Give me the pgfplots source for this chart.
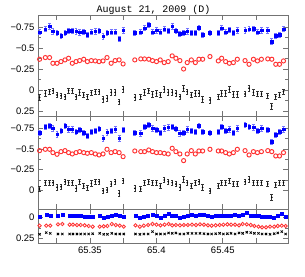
\documentclass[border=0pt]{standalone}
\usepackage{fontspec}
\setmainfont{Liberation Sans}
\newfontfamily\monof{Liberation Mono}
\usepackage{pgfplots}
\usepackage{pgfplotstable}
\pgfplotsset{compat=1.18}

\pgfplotstableread{
x tb tr tk mb mr mk
65.3122 -0.690 -0.366 0.088 -0.695 -0.479 -0.018
65.3165 -0.726 -0.386 0.040 -0.767 -0.495 -0.094
65.3197 -0.758 -0.386 0.020 -0.779 -0.495 -0.094
65.3222 -0.700 -0.318 0.008 -0.747 -0.455 -0.094
65.3253 -0.680 -0.318 0.060 -0.675 -0.435 -0.038
65.3283 -0.646 -0.338 0.068 -0.715 -0.467 -0.046
65.3313 -0.680 -0.358 0.080 -0.779 -0.479 -0.106
65.3340 -0.706 -0.378 0.008 -0.735 -0.455 -0.094
65.3368 -0.706 -0.318 0.008 -0.735 -0.439 -0.094
65.3396 -0.700 -0.338 0.080 -0.707 -0.455 -0.026
65.3423 -0.686 -0.350 0.028 -0.727 -0.467 -0.106
65.3454 -0.694 -0.366 0.060 -0.695 -0.455 -0.054
65.3481 -0.658 -0.338 0.080 -0.655 -0.447 -0.034
65.3511 -0.690 -0.350 0.032 -0.707 -0.455 -0.086
65.3541 -0.700 -0.346 0.020 -0.719 -0.439 -0.106
65.3569 -0.706 -0.338 0.020 -0.739 -0.427 -0.106
65.3599 -0.638 -0.346 0.108 -0.627 -0.439 0.002
65.3629 -0.680 -0.386 0.100 -0.699 -0.495 -0.006
65.3660 -0.690 -0.318 0.028 -0.715 -0.455 -0.078
65.3690 -0.690 -0.350 0.028 -0.735 -0.467 -0.106
65.3720 -0.610 -0.358 0.140 -0.627 -0.455 0.034
65.3750 -0.710 -0.310 -0.008 -0.727 -0.407 -0.118
65.3838 -0.680 -0.358 0.088 -0.695 -0.475 -0.026
65.3883 -0.690 -0.370 0.080 -0.687 -0.467 -0.018
65.3911 -0.738 -0.370 0.028 -0.767 -0.467 -0.094
65.3943 -0.774 -0.366 0.008 -0.787 -0.487 -0.106
65.3971 -0.690 -0.350 0.052 -0.747 -0.467 -0.094
65.4001 -0.710 -0.338 0.040 -0.727 -0.455 -0.094
65.4029 -0.690 -0.358 0.060 -0.695 -0.455 -0.054
65.4059 -0.726 -0.326 -0.008 -0.747 -0.447 -0.126
65.4089 -0.706 -0.338 0.028 -0.759 -0.439 -0.106
65.4119 -0.758 -0.406 0.028 -0.767 -0.507 -0.094
65.4147 -0.706 -0.378 0.040 -0.739 -0.467 -0.078
65.4177 -0.670 -0.350 0.080 -0.687 -0.439 -0.038
65.4205 -0.680 -0.250 -0.020 -0.695 -0.359 -0.134
65.4232 -0.700 -0.326 0.020 -0.735 -0.439 -0.094
65.4263 -0.680 -0.358 0.060 -0.719 -0.479 -0.054
65.4293 -0.680 -0.326 0.040 -0.707 -0.439 -0.094
65.4320 -0.742 -0.366 0.040 -0.775 -0.475 -0.106
65.4348 -0.658 -0.366 0.112 -0.707 -0.475 -0.038
65.4403 -0.680 -0.398 0.120 -0.695 -0.495 0.006
65.4466 -0.680 -0.346 0.080 -0.707 -0.475 -0.054
65.4491 -0.738 -0.378 0.040 -0.767 -0.475 -0.094
65.4521 -0.690 -0.338 0.040 -0.719 -0.455 -0.094
65.4549 -0.718 -0.318 -0.008 -0.735 -0.439 -0.118
65.4579 -0.680 -0.326 0.052 -0.695 -0.455 -0.078
65.4609 -0.710 -0.366 0.052 -0.747 -0.495 -0.078
65.4667 -0.710 -0.350 0.048 -0.787 -0.479 -0.106
65.4697 -0.726 -0.306 -0.020 -0.767 -0.427 -0.134
65.4730 -0.730 -0.366 0.028 -0.759 -0.467 -0.094
65.4760 -0.690 -0.346 0.048 -0.719 -0.455 -0.094
65.4790 -0.710 -0.366 0.048 -0.747 -0.467 -0.094
65.4838 -0.710 -0.370 0.068 -0.727 -0.479 -0.078
65.4868 -0.578 -0.366 0.192 -0.587 -0.467 0.082
65.4898 -0.646 -0.306 0.080 -0.667 -0.415 -0.066
65.4926 -0.658 -0.306 0.060 -0.707 -0.415 -0.094
65.4956 -0.726 -0.346 0.020 -0.735 -0.455 -0.094
}\tm

\pgfplotstableread{
x bb br bk
65.3122 -0.012 0.097 0.202
65.3172 -0.032 0.097 0.181
65.3202 -0.024 0.097 0.190
65.3260 -0.024 0.081 0.198
65.3293 -0.032 0.077 0.198
65.3348 -0.024 0.085 0.198
65.3373 -0.020 0.085 0.198
65.3403 -0.020 0.089 0.198
65.3431 -0.024 0.089 0.198
65.3461 -0.012 0.093 0.198
65.3491 -0.012 0.101 0.198
65.3521 -0.012 0.109 0.194
65.3574 -0.024 0.109 0.190
65.3604 -0.004 0.105 0.202
65.3632 -0.012 0.101 0.202
65.3665 -0.028 0.077 0.190
65.3695 -0.040 0.089 0.198
65.3725 -0.020 0.097 0.198
65.3755 -0.012 0.109 0.198
65.3843 -0.024 0.093 0.198
65.3876 -0.004 0.109 0.202
65.3906 -0.012 0.097 0.198
65.3938 -0.024 0.089 0.198
65.3971 -0.040 0.077 0.169
65.4001 -0.028 0.085 0.198
65.4031 -0.004 0.093 0.198
65.4062 -0.020 0.085 0.198
65.4092 -0.044 0.077 0.185
65.4119 -0.028 0.093 0.190
65.4147 -0.020 0.089 0.185
65.4177 -0.004 0.093 0.198
65.4207 -0.012 0.089 0.198
65.4237 -0.020 0.089 0.190
65.4268 -0.032 0.085 0.190
65.4298 -0.024 0.089 0.190
65.4328 -0.032 0.081 0.190
65.4358 -0.040 0.085 0.194
65.4388 -0.020 0.093 0.198
65.4416 -0.012 0.097 0.198
65.4446 -0.024 0.093 0.194
65.4476 -0.020 0.089 0.190
65.4504 -0.020 0.085 0.198
65.4534 -0.028 0.081 0.194
65.4562 -0.020 0.085 0.190
65.4592 -0.032 0.085 0.198
65.4622 -0.028 0.093 0.185
65.4649 -0.036 0.077 0.190
65.4680 -0.060 0.081 0.177
65.4710 -0.024 0.089 0.181
65.4737 -0.020 0.101 0.190
65.4768 -0.020 0.109 0.190
65.4795 -0.012 0.117 0.198
65.4825 -0.012 0.117 0.198
65.4855 -0.008 0.109 0.202
65.4886 -0.004 0.109 0.194
65.4913 -0.024 0.101 0.185
65.4943 -0.052 0.097 0.169
65.4972 -0.012 0.101 0.198
}\tb

\pgfplotsset{
  panel/.style={
    scale only axis, width=250bp,
    xmin=65.311, xmax=65.499,
    y dir=reverse,
    axis line style={black!55, line width=0.9pt},
    every tick/.style={black!55, line width=0.7pt},
    tick align=inside,
    major tick length=5bp, minor tick length=3bp,
    xtick={65.325,65.35,65.375,65.4,65.425,65.45,65.475},
    xticklabels={},
    minor y tick num=1,
    tick label style={font=\fontsize{9.5}{11}\selectfont},
    /pgf/number format/assume math mode=true,
    clip=false,
  },
  bser/.style={only marks, mark=square*, mark size=1.3pt, color=blue,
    error bars/.cd, y dir=both, y fixed=0.032,
    error bar style={blue!55, line width=0.7pt},
    error mark options={rotate=90, mark size=1.4pt, blue!55, line width=0.7pt}},
  rser/.style={only marks, mark=o, mark size=2.1pt, color=red!80, line width=0.95pt},
  kser/.style={only marks, mark=*, mark size=0.6pt, color=black,
    error bars/.cd, y dir=both, y fixed=0.033,
    error bar style={black!80, line width=0.6pt},
    error mark options={rotate=90, mark size=1.3pt, black!80, line width=0.6pt}},
}

\begin{document}
\begin{tikzpicture}
\path[use as bounding box] (0bp,0bp) rectangle (305bp,277bp);
\node[font=\monof\fontsize{10}{12}\selectfont, anchor=base] at (153.5bp,264bp) {August 21, 2009 (D)};

\begin{axis}[panel, at={(38bp,161bp)}, anchor=south west, height=101bp,
  ymin=-0.893, ymax=0.31,
  ytick={-0.75,-0.5,-0.25,0,0.25},
  yticklabels={−0.75,−0.5,−0.25,0,0.25}]
\addplot[bser] table[x=x, y=tb] {\tm};
\addplot[rser] table[x=x, y=tr] {\tm};
\addplot[kser] table[x=x, y=tk] {\tm};
\end{axis}

\begin{axis}[panel, at={(38bp,68bp)}, anchor=south west, height=93bp,
  ymin=-0.895, ymax=0.222,
  ytick={-0.75,-0.5,-0.25,0},
  yticklabels={−0.75,−0.5,−0.25,0}]
\addplot[bser] table[x=x, y=mb] {\tm};
\addplot[rser] table[x=x, y=mr] {\tm};
\addplot[kser] table[x=x, y=mk] {\tm};
\end{axis}

\begin{axis}[panel, at={(38bp,34bp)}, anchor=south west, height=34bp,
  ymin=-0.105, ymax=0.307,
  ytick={0,0.25},
  yticklabels={0,0.25},
  xticklabels={,65.35,,65.4,,65.45,}]
\addplot[only marks, mark=square*, mark size=1.5pt, color=blue] table[x=x, y=bb] {\tb};
\addplot[only marks, mark=o, mark size=1.7pt, color=red!80, line width=0.85pt] table[x=x, y=br] {\tb};
\addplot[only marks, mark=x, mark size=1.6pt, color=black, line width=0.8pt] table[x=x, y=bk] {\tb};
\end{axis}
\end{tikzpicture}
\end{document}
